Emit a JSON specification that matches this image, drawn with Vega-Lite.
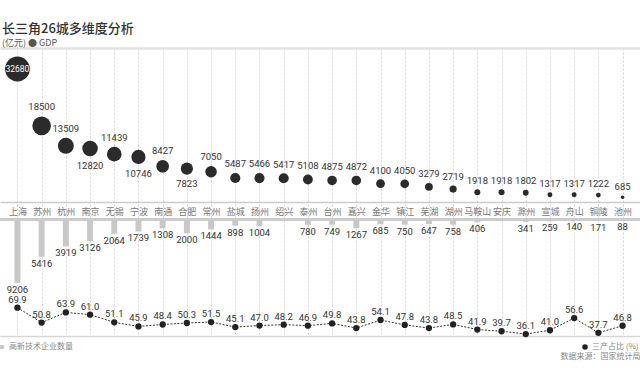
{
  "$schema": "https://vega.github.io/schema/vega-lite/v6.json",
  "width": 640,
  "height": 288,
  "autosize": {"type": "none"},
  "padding": {"left": 0, "top": 48, "right": 0, "bottom": 44},
  "background": "#ffffff",
  "title": {
    "text": "长三角26城多维度分析",
    "subtitle": "(亿元) ● GDP",
    "anchor": "start",
    "frame": "group",
    "font": "Noto Sans CJK SC",
    "fontSize": 13,
    "fontWeight": 500,
    "color": "#333333",
    "subtitleFont": "Noto Sans CJK SC",
    "subtitleFontSize": 9,
    "subtitleColor": "#555555",
    "subtitlePadding": 3,
    "offset": 0,
    "dx": 2
  },
  "config": {
    "view": {"stroke": null},
    "font": "Noto Sans CJK SC"
  },
  "data": {
    "values": [
      {"city": "上海", "gdp": 32680, "tech": 9206, "tertiary": 69.9},
      {"city": "苏州", "gdp": 18500, "tech": 5416, "tertiary": 50.8},
      {"city": "杭州", "gdp": 13509, "tech": 3919, "tertiary": 63.9},
      {"city": "南京", "gdp": 12820, "tech": 3126, "tertiary": 61.0},
      {"city": "无锡", "gdp": 11439, "tech": 2064, "tertiary": 51.1},
      {"city": "宁波", "gdp": 10746, "tech": 1739, "tertiary": 45.9},
      {"city": "南通", "gdp": 8427, "tech": 1308, "tertiary": 48.4},
      {"city": "合肥", "gdp": 7823, "tech": 2000, "tertiary": 50.3},
      {"city": "常州", "gdp": 7050, "tech": 1444, "tertiary": 51.5},
      {"city": "盐城", "gdp": 5487, "tech": 898, "tertiary": 45.1},
      {"city": "扬州", "gdp": 5466, "tech": 1004, "tertiary": 47.0},
      {"city": "绍兴", "gdp": 5417, "tech": null, "tertiary": 48.2},
      {"city": "泰州", "gdp": 5108, "tech": 780, "tertiary": 46.9},
      {"city": "台州", "gdp": 4875, "tech": 749, "tertiary": 49.8},
      {"city": "嘉兴", "gdp": 4872, "tech": 1267, "tertiary": 43.8},
      {"city": "金华", "gdp": 4100, "tech": 685, "tertiary": 54.1},
      {"city": "镇江", "gdp": 4050, "tech": 750, "tertiary": 47.8},
      {"city": "芜湖", "gdp": 3279, "tech": 647, "tertiary": 43.8},
      {"city": "湖州", "gdp": 2719, "tech": 758, "tertiary": 48.5},
      {"city": "马鞍山", "gdp": 1918, "tech": 406, "tertiary": 41.9},
      {"city": "安庆", "gdp": 1918, "tech": null, "tertiary": 39.7},
      {"city": "滁州", "gdp": 1802, "tech": 341, "tertiary": 36.1},
      {"city": "宣城", "gdp": 1317, "tech": 259, "tertiary": 41.0},
      {"city": "舟山", "gdp": 1317, "tech": 140, "tertiary": 56.6},
      {"city": "铜陵", "gdp": 1222, "tech": 171, "tertiary": 37.7},
      {"city": "池州", "gdp": 685, "tech": 88, "tertiary": 46.8}
    ]
  },
  "encoding": {
    "x": {
      "field": "city",
      "type": "nominal",
      "sort": null,
      "scale": {"type": "point", "padding": 0.72},
      "axis": null
    }
  },
  "layer": [
    {
      "mark": {"type": "circle", "opacity": 1, "color": "#2b2b2b"},
      "encoding": {
        "x": {
          "field": "city", "type": "nominal", "sort": null,
          "scale": {"type": "point", "padding": 0.72},
          "axis": {
            "orient": "bottom",
            "offset": -134,
            "title": null,
            "ticks": false,
            "labelAngle": 0,
            "labelPadding": 5,
            "labelFont": "Noto Sans CJK SC",
            "labelFontSize": 9,
            "labelColor": "#777777",
            "domainColor": "#cccccc",
            "domainWidth": 1.5,
            "grid": true,
            "gridColor": "#d2d2d2",
            "gridDash": [2, 2],
            "gridWidth": 1
          }
        },
        "y": {
          "field": "gdp", "type": "quantitative",
          "scale": {"domain": [-33924, 37915], "nice": false, "zero": false},
          "axis": null
        },
        "size": {
          "field": "gdp", "type": "quantitative",
          "scale": {"type": "linear", "domain": [0, 32680], "range": [0, 615]},
          "legend": null
        }
      }
    },
    {
      "transform": [{"filter": "datum.city !== '上海' && datum.city !== '南京' && datum.city !== '宁波' && datum.city !== '合肥'"}],
      "mark": {"type": "text", "baseline": "bottom", "fontSize": 9.5, "font": "Roboto", "color": "#333333", "dy": {"expr": "-3 - 14 * sqrt(datum.gdp / 32680)"}},
      "encoding": {
        "y": {"field": "gdp", "type": "quantitative", "scale": {"domain": [-33924, 37915], "nice": false, "zero": false}, "axis": null},
        "text": {"field": "gdp", "type": "quantitative", "format": "d"}
      }
    },
    {
      "transform": [{"filter": "datum.city === '南京' || datum.city === '宁波' || datum.city === '合肥'"}],
      "mark": {"type": "text", "baseline": "top", "fontSize": 9.5, "font": "Roboto", "color": "#333333", "dy": {"expr": "4 + 14 * sqrt(datum.gdp / 32680)"}},
      "encoding": {
        "y": {"field": "gdp", "type": "quantitative", "scale": {"domain": [-33924, 37915], "nice": false, "zero": false}, "axis": null},
        "text": {"field": "gdp", "type": "quantitative", "format": "d"}
      }
    },
    {
      "transform": [{"filter": "datum.city === '上海'"}],
      "mark": {"type": "text", "baseline": "middle", "fontSize": 8.5, "font": "Roboto", "color": "#ffffff"},
      "encoding": {
        "y": {"field": "gdp", "type": "quantitative", "scale": {"domain": [-33924, 37915], "nice": false, "zero": false}, "axis": null},
        "text": {"field": "gdp", "type": "quantitative", "format": "d"}
      }
    },
    {
      "transform": [{"filter": "datum.tech != null"}],
      "mark": {"type": "bar", "size": 6},
      "encoding": {
        "x": {
          "field": "city", "type": "nominal", "sort": null,
          "scale": {"type": "point", "padding": 0.72},
          "axis": {
            "orient": "top",
            "title": null,
            "labels": false,
            "ticks": false,
            "grid": false,
            "domainColor": "#e2e2e2",
            "domainWidth": 2.5
          }
        },
        "y": {
          "field": "tech", "type": "quantitative",
          "scale": {"domain": [-24927, 16933], "reverse": true, "nice": false, "zero": false},
          "axis": null
        },
        "color": {
          "datum": "高新技术企业数量",
          "scale": {"domain": ["高新技术企业数量"], "range": ["#c8c8c8"]},
          "legend": {
            "title": null,
            "orient": "none",
            "legendX": -2,
            "legendY": 295,
            "symbolType": "circle",
            "symbolSize": 22,
            "symbolFillColor": "#aaaaaa",
            "labelFont": "Noto Sans CJK SC",
            "labelFontSize": 8,
            "labelColor": "#888888",
            "labelOffset": 3
          }
        }
      }
    },
    {
      "mark": {"type": "rule", "color": "#cccccc", "strokeWidth": 1.5},
      "encoding": {
        "x": {"value": 0},
        "x2": {"value": 640},
        "y": {"datum": 0, "type": "quantitative", "scale": {"domain": [-24927, 16933], "reverse": true, "nice": false, "zero": false}, "axis": null}
      }
    },
    {
      "transform": [{"filter": "datum.tech != null"}],
      "mark": {"type": "text", "baseline": "top", "dy": 2, "fontSize": 9.5, "font": "Roboto", "color": "#333333"},
      "encoding": {
        "y": {"field": "tech", "type": "quantitative", "scale": {"domain": [-24927, 16933], "reverse": true, "nice": false, "zero": false}, "axis": null},
        "text": {"field": "tech", "type": "quantitative", "format": "d"}
      }
    },
    {
      "mark": {"type": "line", "color": "#333333", "strokeWidth": 1, "strokeDash": [2, 1.5]},
      "encoding": {
        "x": {
          "field": "city", "type": "nominal", "sort": null,
          "scale": {"type": "point", "padding": 0.72},
          "axis": {
            "orient": "bottom",
            "title": "数据来源：国家统计局",
            "titleAnchor": "end",
            "titleAlign": "right",
            "titleFont": "Noto Sans CJK SC",
            "titleFontSize": 8,
            "titleFontWeight": "normal",
            "titleColor": "#888888",
            "titlePadding": 16,
            "labels": false,
            "ticks": false,
            "grid": false,
            "domainColor": "#d6d6d6",
            "domainWidth": 1.5
          }
        },
        "y": {"field": "tertiary", "type": "quantitative", "scale": {"domain": [33.62, 402.85], "nice": false, "zero": false}, "axis": null}
      }
    },
    {
      "mark": {"type": "circle", "opacity": 1, "size": 40},
      "encoding": {
        "y": {"field": "tertiary", "type": "quantitative", "scale": {"domain": [33.62, 402.85], "nice": false, "zero": false}, "axis": null},
        "color": {
          "datum": "三产占比 (%)",
          "scale": {"domain": ["三产占比 (%)"], "range": ["#222222"]},
          "legend": {
            "title": null,
            "orient": "none",
            "legendX": 581,
            "legendY": 295,
            "symbolType": "circle",
            "symbolSize": 30,
            "labelFont": "Noto Sans CJK SC",
            "labelFontSize": 8,
            "labelColor": "#888888",
            "labelOffset": 3
          }
        }
      }
    },
    {
      "mark": {"type": "text", "baseline": "bottom", "dy": -3, "fontSize": 9.5, "font": "Roboto", "color": "#333333"},
      "encoding": {
        "y": {"field": "tertiary", "type": "quantitative", "scale": {"domain": [33.62, 402.85], "nice": false, "zero": false}, "axis": null},
        "text": {"field": "tertiary", "type": "quantitative", "format": ".1f"}
      }
    }
  ],
  "resolve": {
    "scale": {"y": "independent", "color": "independent", "size": "independent"},
    "axis": {"x": "independent"},
    "legend": {"color": "independent"}
  }
}
